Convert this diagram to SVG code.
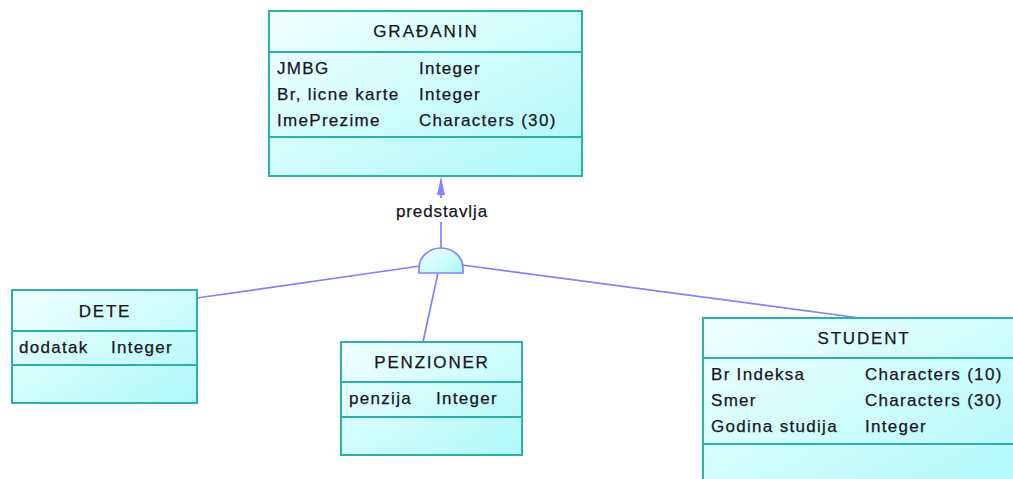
<svg xmlns="http://www.w3.org/2000/svg" width="1013" height="479" viewBox="0 0 1013 479">
<style>
.box{fill:url(#g);stroke:#2fb0a6;stroke-width:2}
.sep{stroke:#2fb0a6;stroke-width:2}
.t{font-family:"Liberation Sans",Arial,sans-serif;font-size:17px;letter-spacing:1.3px;fill:#16161e;stroke:#16161e;stroke-width:0.25}
.h{text-anchor:middle}
.c{stroke:#8282ff;stroke-width:1.7;fill:none}
</style>
<defs>
<linearGradient id="g" x1="0" y1="0" x2="1" y2="1">
<stop offset="0" stop-color="#f2ffff"/>
<stop offset="1" stop-color="#aef9f9"/>
</linearGradient>
</defs>
<rect width="1013" height="479" fill="#ffffff"/>
<g id="connectors">
<line class="c" x1="441" y1="190" x2="441" y2="198"/>
<polygon points="441,176 442.5,184 445,195 437,195 439.5,184" fill="#8282ff"/>
<text class="t h" x="442" y="217" style="letter-spacing:0.9px">predstavlja</text>
<line class="c" x1="441" y1="222" x2="441" y2="248"/>
<line class="c" x1="420" y1="266" x2="197" y2="298"/>
<line class="c" x1="438" y1="273" x2="423" y2="342"/>
<line class="c" x1="462" y1="265" x2="860" y2="318"/>
<path d="M419,273 L419,268 A22,20 0 0 1 463,268 L463,273 Z" fill="url(#g)" stroke="#8282ff" stroke-width="1.7"/>
</g>
<g id="gradanin">
<rect class="box" x="269" y="11" width="313" height="165"/>
<line class="sep" x1="269" y1="52" x2="582" y2="52"/>
<line class="sep" x1="269" y1="137" x2="582" y2="137"/>
<text class="t h" x="426" y="37" style="letter-spacing:2px">GRAĐANIN</text>
<text class="t" x="277" y="74">JMBG</text>
<text class="t" x="419" y="74">Integer</text>
<text class="t" x="277" y="100">Br, licne karte</text>
<text class="t" x="419" y="100">Integer</text>
<text class="t" x="277" y="126">ImePrezime</text>
<text class="t" x="419" y="126">Characters (30)</text>
</g>
<g id="dete">
<rect class="box" x="12" y="290" width="185" height="113"/>
<line class="sep" x1="12" y1="331" x2="197" y2="331"/>
<line class="sep" x1="12" y1="365" x2="197" y2="365"/>
<text class="t h" x="105" y="317" style="letter-spacing:1.8px">DETE</text>
<text class="t" x="19" y="353">dodatak</text>
<text class="t" x="111" y="353">Integer</text>
</g>
<g id="penzioner">
<rect class="box" x="341" y="342" width="181" height="113"/>
<line class="sep" x1="341" y1="382" x2="522" y2="382"/>
<line class="sep" x1="341" y1="417" x2="522" y2="417"/>
<text class="t h" x="432" y="368" style="letter-spacing:1.8px">PENZIONER</text>
<text class="t" x="349" y="404">penzija</text>
<text class="t" x="436" y="404">Integer</text>
</g>
<g id="student">
<rect class="box" x="703" y="318" width="322" height="175"/>
<line class="sep" x1="703" y1="358" x2="1025" y2="358"/>
<line class="sep" x1="703" y1="444" x2="1025" y2="444"/>
<text class="t h" x="864" y="344" style="letter-spacing:1.8px">STUDENT</text>
<text class="t" x="711" y="380">Br Indeksa</text>
<text class="t" x="865" y="380">Characters (10)</text>
<text class="t" x="711" y="406">Smer</text>
<text class="t" x="865" y="406">Characters (30)</text>
<text class="t" x="711" y="432">Godina studija</text>
<text class="t" x="865" y="432">Integer</text>
</g>
</svg>
